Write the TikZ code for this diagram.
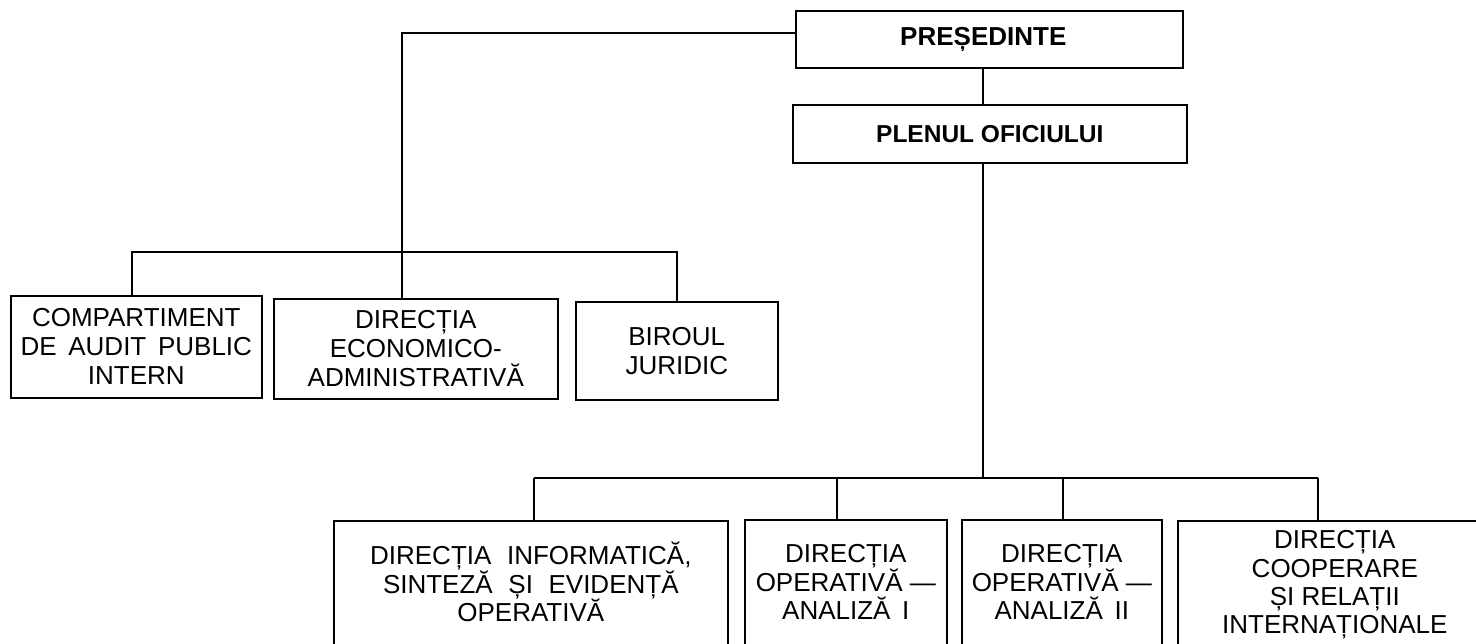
\documentclass[tikz,border=0pt]{standalone}
\usepackage{fontspec}
\setmainfont{Liberation Sans}
\usetikzlibrary{calc}
\newcommand\wspa{\hspace{0.45em}}
\newcommand\wspb{\hspace{0.6em}}
\begin{document}
\begin{tikzpicture}[x=1pt,y=-1pt,
  box/.style={draw, line width=1.6pt, inner sep=0pt, anchor=north west},
  lnk/.style={line width=1.5pt},
  lbl/.style={align=center, font=\fontsize{26}{29}\selectfont, inner sep=0pt},
  blbl/.style={align=center, font=\fontsize{26}{28.4}\selectfont, inner sep=0pt},
  hd/.style={font=\fontsize{24.5}{29}\selectfont\bfseries}]
\clip (0,0) rectangle (1476,643);
% top
\node[box, hd, font=\fontsize{26}{29}\selectfont\bfseries, minimum width=387pt, minimum height=57pt] (pres) at (795,10) {\hspace*{-12pt}PREȘEDINTE};
\node[box, hd, minimum width=394pt, minimum height=58pt] (plen) at (792,104) {PLENUL OFICIULUI};
% first row
\node[box, lbl, minimum width=251pt, minimum height=102pt] (b1) at (10,295) {COMPARTIMENT\\DE\wspa AUDIT\wspa PUBLIC\\INTERN};
\node[box, lbl, minimum width=284pt, minimum height=100pt] (b2) at (273,298) {DIRECȚIA\\ECONOMICO-\\ADMINISTRATIVĂ};
\node[box, lbl, minimum width=202pt, minimum height=98pt] (b3) at (575,301) {BIROUL\\JURIDIC};
% second row
\node[box, minimum width=394pt, minimum height=200pt] (b4) at (333,520) {};
\node[box, minimum width=202pt, minimum height=200pt] (b5) at (744,519) {};
\node[box, minimum width=200pt, minimum height=200pt] (b6) at (961,519) {};
\node[box, minimum width=314pt, minimum height=200pt] (b7) at (1177,520) {};
\node[blbl] (t4) at ($(b4.north)+(0,62)$) {DIRECȚIA\wspb INFORMATICĂ,\\SINTEZĂ\wspb ȘI\wspb EVIDENȚĂ\\OPERATIVĂ};
\node[blbl] (t5) at ($(b5.north)+(0,63)$) {DIRECȚIA\\OPERATIVĂ —\\ANALIZĂ\wspa I};
\node[blbl] (t6) at ($(b6.north)+(0,63)$) {DIRECȚIA\\OPERATIVĂ —\\ANALIZĂ\wspa II};
\node[blbl] (t7) at ($(b7.north)+(0,65)$) {DIRECȚIA\\COOPERARE\\ȘI RELAȚII\\INTERNAȚIONALE};
% connector points
\coordinate (lc) at (402,33);
\coordinate (j1) at (132,252);
\coordinate (j3) at (677,252);
\coordinate (v) at (983,0);
\coordinate (k0) at (983,478);
\coordinate (k4) at (534,478);
\coordinate (k5) at (837,478);
\coordinate (k6) at (1063,478);
\coordinate (k7) at (1318,478);
% connectors
\draw[lnk] (pres.west |- lc) -- (lc) -- (lc |- b2.north);
\draw[lnk] (j1 |- b1.north) -- (j1) -- (j3) -- (j3 |- b3.north);
\draw[lnk] (v |- pres.south) -- (v |- plen.north);
\draw[lnk] (v |- plen.south) -- (k0);
\draw[lnk] (k4) -- (k7);
\foreach \k/\b in {k4/b4,k5/b5,k6/b6,k7/b7} \draw[lnk] (\k) -- (\k |- \b.north);
\end{tikzpicture}
\end{document}
